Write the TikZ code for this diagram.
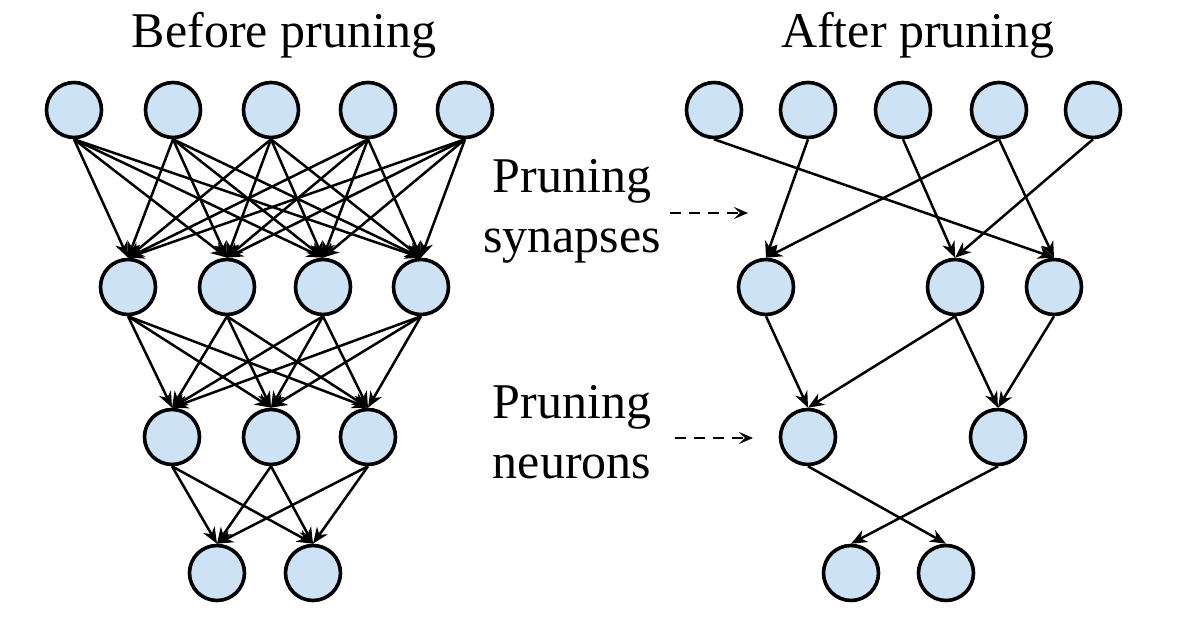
\documentclass[tikz,border=0pt]{standalone}
\usepackage{fontspec}
\setmainfont{Liberation Serif}
\usetikzlibrary{arrows.meta}
\definecolor{neuronblue}{RGB}{205,226,244}
\tikzset{
  neuron/.style={circle, draw, line width=1.8pt, fill=neuronblue, minimum size=27.5pt, inner sep=0pt},
  synapse/.style={line width=1.25pt, -{Stealth[length=8pt, width=6.5pt, inset=2.5pt]}},
  hint/.style={line width=1.3pt, dash pattern=on 5.5pt off 4pt, -{Stealth[length=7pt, width=6pt, inset=3pt]}},
  heading/.style={font=\fontsize{25pt}{30pt}\selectfont, anchor=base, inner sep=0pt},
  labeltext/.style={font=\fontsize{25pt}{30pt}\selectfont, anchor=base, inner sep=0pt}
}
\begin{document}
\begin{tikzpicture}[x=0.5pt, y=0.5pt]
  \useasboundingbox (0, 0) rectangle (1179, 641);
  % before pruning
  \node[heading] (before) at (284, 593) {Before pruning};
    \node[neuron] (a1) at (74, 531) {};
    \node[neuron] (a2) at (173, 531) {};
    \node[neuron] (a3) at (271, 531) {};
    \node[neuron] (a4) at (368, 531) {};
    \node[neuron] (a5) at (465, 531) {};
    \node[neuron] (b1) at (128, 354) {};
    \node[neuron] (b2) at (227, 354) {};
    \node[neuron] (b3) at (323, 354) {};
    \node[neuron] (b4) at (421, 354) {};
    \node[neuron] (c1) at (172, 204) {};
    \node[neuron] (c2) at (271, 204) {};
    \node[neuron] (c3) at (368, 204) {};
    \node[neuron] (d1) at (217, 68) {};
    \node[neuron] (d2) at (313, 68) {};
  \foreach \i in {1,...,5}
    \foreach \j in {1,...,4}
      \draw[synapse] (a\i.south) to (b\j.north);
  \foreach \i in {1,...,4}
    \foreach \j in {1,...,3}
      \draw[synapse] (b\i.south) to (c\j.north);
  \foreach \i in {1,...,3}
    \foreach \j in {1,2}
      \draw[synapse] (c\i.south) to (d\j.north);
  % middle labels
  \node[labeltext] (prunesyn) at (572, 448) {Pruning};
    \node[labeltext] (syn) at (572, 388) {synapses};
  \node[labeltext] (pruneneu) at (572, 222) {Pruning};
    \node[labeltext] (neu) at (572, 162) {neurons};
  \coordinate (synfrom) at (670, 428);
  \coordinate (synto) at (748, 428);
  \coordinate (neufrom) at (675, 203);
  \coordinate (neuto) at (753, 203);
  \draw[hint] (synfrom) to (synto);
  \draw[hint] (neufrom) to (neuto);
  % after pruning
  \node[heading] (after) at (918, 593) {After pruning};
    \node[neuron] (p1) at (714, 531) {};
    \node[neuron] (p2) at (808, 531) {};
    \node[neuron] (p3) at (903, 531) {};
    \node[neuron] (p4) at (999, 531) {};
    \node[neuron] (p5) at (1093, 531) {};
    \node[neuron] (q1) at (766, 354) {};
    \node[neuron] (q2) at (955, 354) {};
    \node[neuron] (q3) at (1054, 354) {};
    \node[neuron] (r1) at (808, 204) {};
    \node[neuron] (r2) at (998, 204) {};
    \node[neuron] (s1) at (851, 68) {};
    \node[neuron] (s2) at (946, 68) {};
  \draw[synapse] (p1.south) to (q3.north);
  \draw[synapse] (p2.south) to (q1.north);
  \draw[synapse] (p3.south) to (q2.north);
  \draw[synapse] (p4.south) to (q1.north);
  \draw[synapse] (p4.south) to (q3.north);
  \draw[synapse] (p5.south) to (q2.north);
  \draw[synapse] (q1.south) to (r1.north);
  \draw[synapse] (q2.south) to (r1.north);
  \draw[synapse] (q2.south) to (r2.north);
  \draw[synapse] (q3.south) to (r2.north);
  \draw[synapse] (r1.south) to (s2.north);
  \draw[synapse] (r2.south) to (s1.north);
\end{tikzpicture}
\end{document}
